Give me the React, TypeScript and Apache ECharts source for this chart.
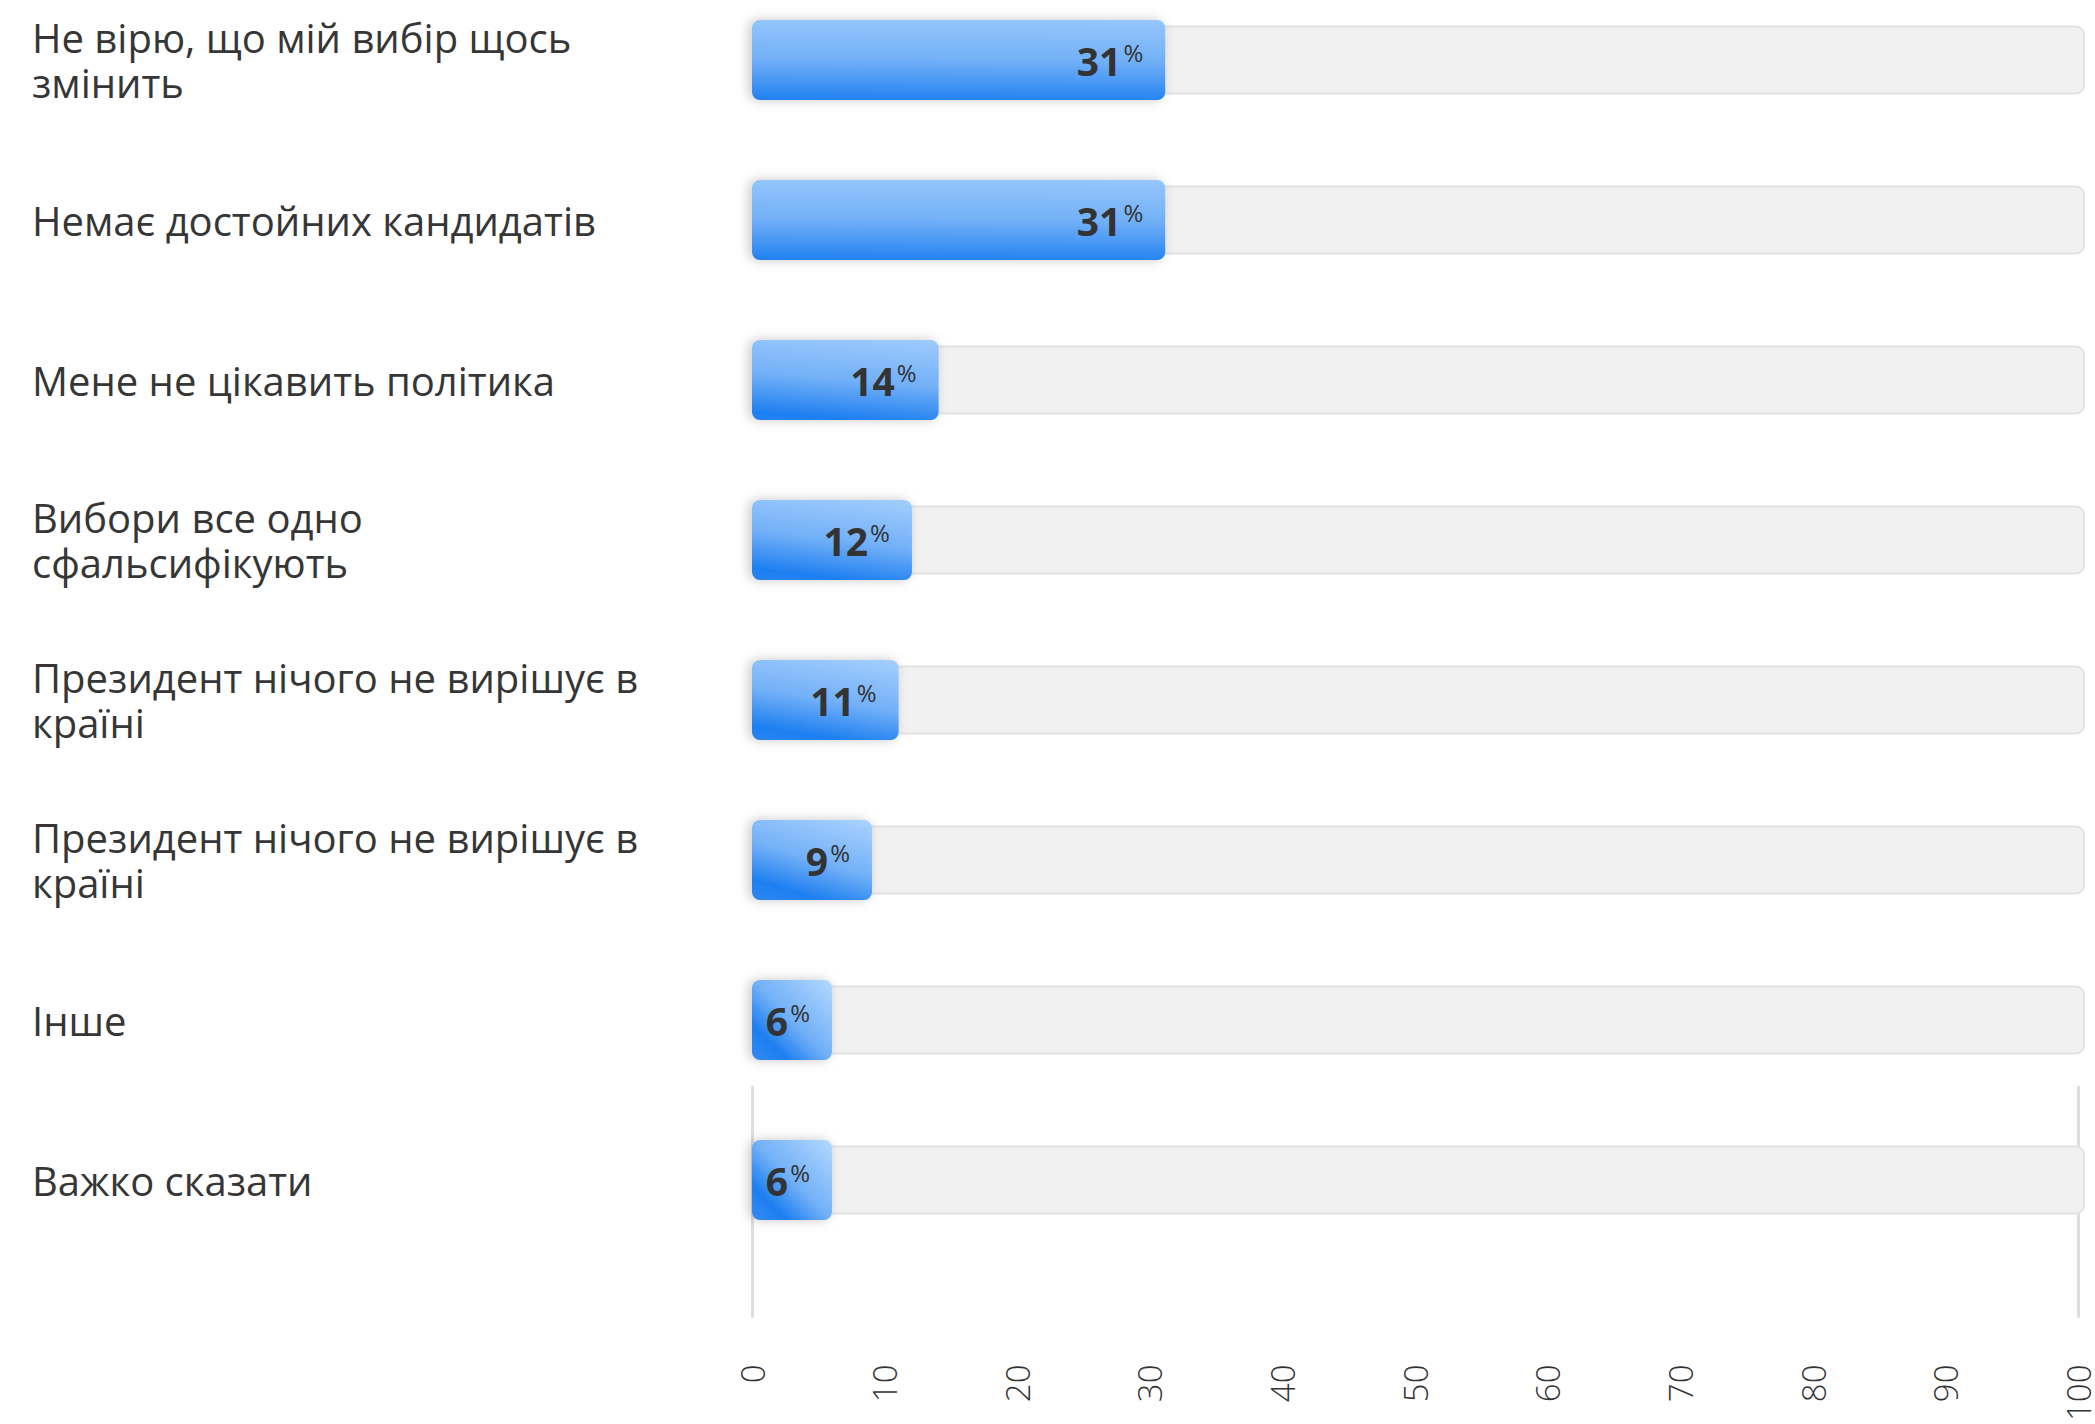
import React, { useEffect, useRef } from "react";
import * as echarts from "echarts";

const categories: string[] = [
  "Не вірю, що мій вибір щось змінить",
  "Немає достойних кандидатів",
  "Мене не цікавить політика",
  "Вибори все одно сфальсифікують",
  "Президент нічого не вирішує в країні",
  "Президент нічого не вирішує в країні",
  "Інше",
  "Важко сказати",
];
const values: number[] = [31, 31, 14, 12, 11, 9, 6, 6];
const trackMax = 100;
const axisMin = 0;
const axisMax = 100;
const axisInterval = 10;

const FONT = "'Open Sans', 'Noto Sans', sans-serif";
const LABEL_SIZE = 40;
const WRAP_WIDTH = 635;
const GRID_LEFT = 752;
const GRID_RIGHT = 10;
const CHART_W = 2095;
const BAR_H = 80;

let measureCtx: CanvasRenderingContext2D | null = null;
function wrapText(text: string, maxWidth: number): string {
  if (!measureCtx) {
    const c = document.createElement("canvas");
    measureCtx = c.getContext("2d");
  }
  const ctx = measureCtx!;
  ctx.font = `${LABEL_SIZE}px ${FONT}`;
  const words = text.split(" ");
  const lines: string[] = [];
  let cur = "";
  for (const w of words) {
    const test = cur ? cur + " " + w : w;
    if (cur && ctx.measureText(test).width > maxWidth) {
      lines.push(cur);
      cur = w;
    } else {
      cur = test;
    }
  }
  if (cur) lines.push(cur);
  return lines.join("\n");
}

function barGradient(value: number) {
  const plotW = CHART_W - GRID_LEFT - GRID_RIGHT;
  const w = (value / (axisMax - axisMin)) * plotW;
  const h = BAR_H;
  const n2 = w * w + h * h;
  const a = (h * h) / n2;
  const b = (w * w) / n2;
  return {
    type: "linear",
    x: 0.5 - a,
    y: 0.5 + b,
    x2: 0.5 + a,
    y2: 0.5 - b,
    colorStops: [
      { offset: 0, color: "#348bf2" },
      { offset: 0.22, color: "#1e7ff0" },
      { offset: 0.5, color: "#72b0f7" },
      { offset: 1, color: "#b4d8ff" },
    ],
  };
}

export default function App() {
  const ref = useRef<HTMLDivElement>(null);
  useEffect(() => {
    document.body.style.margin = "0";
    if (!ref.current) return;
    const chart = echarts.init(ref.current, undefined, { renderer: "svg" });
    const option: any = {
      animation: false,
      backgroundColor: "#ffffff",
      textStyle: { fontFamily: FONT },
      grid: [
        { left: GRID_LEFT, right: GRID_RIGHT, top: 60, height: 1120 },
        { left: GRID_LEFT, right: GRID_RIGHT, top: 1087, height: 240 },
      ],
      xAxis: [
        { gridIndex: 0, type: "value", min: axisMin, max: axisMax, show: false },
        {
          gridIndex: 1,
          type: "value",
          min: axisMin,
          max: axisMax,
          interval: axisInterval,
          axisLine: { show: false },
          axisTick: { show: false },
          splitLine: { show: false },
          axisLabel: {
            rotate: 90,
            margin: 48,
            fontSize: 33,
            fontWeight: 300,
            color: "#333",
            fontFamily: FONT,
          },
        },
      ],
      yAxis: [
        {
          gridIndex: 0,
          type: "category",
          inverse: true,
          boundaryGap: false,
          data: categories,
          axisLine: { show: false },
          axisTick: { show: false },
          splitLine: { show: false },
          axisLabel: {
            align: "left",
            margin: GRID_LEFT - 32,
            fontSize: LABEL_SIZE,
            color: "#363636",
            lineHeight: 45,
            fontFamily: FONT,
            formatter: (v: string) => wrapText(v, WRAP_WIDTH),
          },
        },
        {
          gridIndex: 0,
          type: "category",
          inverse: true,
          boundaryGap: false,
          data: categories,
          show: false,
        },
        {
          gridIndex: 1,
          type: "value",
          position: "left",
          axisLine: { show: true, onZero: false, lineStyle: { color: "#dedede", width: 3 } },
          axisTick: { show: false },
          axisLabel: { show: false },
          splitLine: { show: false },
        },
        {
          gridIndex: 1,
          type: "value",
          position: "right",
          axisLine: { show: true, onZero: false, lineStyle: { color: "#dedede", width: 3 } },
          axisTick: { show: false },
          axisLabel: { show: false },
          splitLine: { show: false },
        },
      ],
      series: [
        {
          type: "bar",
          xAxisIndex: 0,
          yAxisIndex: 1,
          data: categories.map(() => trackMax),
          barWidth: 69,
          clip: false,
          silent: true,
          itemStyle: {
            color: "#f1f1f1",
            borderColor: "#e2e2e2",
            borderWidth: 2,
            borderRadius: 8,
          },
          z: 1,
        },
        {
          type: "bar",
          xAxisIndex: 0,
          yAxisIndex: 0,
          data: values.map((v) => ({
            value: v,
            itemStyle: { color: barGradient(v) },
          })),
          barWidth: BAR_H,
          clip: false,
          itemStyle: {
            borderRadius: 8,
            shadowColor: "rgba(0,0,0,0.22)",
            shadowBlur: 12,
            shadowOffsetX: -3,
          },
          label: {
            show: true,
            position: "insideRight",
            distance: 22,
            formatter: (p: any) => `{v|${p.value}}{p|%}`,
            rich: {
              v: {
                fontSize: 39,
                fontWeight: 700,
                color: "#333",
                lineHeight: 40,
                fontFamily: FONT,
              },
              p: {
                fontSize: 24,
                color: "#333",
                verticalAlign: "top",
                lineHeight: 34,
                padding: [0, 0, 0, 2],
                fontFamily: FONT,
              },
            },
          },
          z: 3,
        },
      ],
    };
    chart.setOption(option);
    return () => chart.dispose();
  }, []);
  return <div ref={ref} style={{ width: CHART_W, height: 1424 }} />;
}
